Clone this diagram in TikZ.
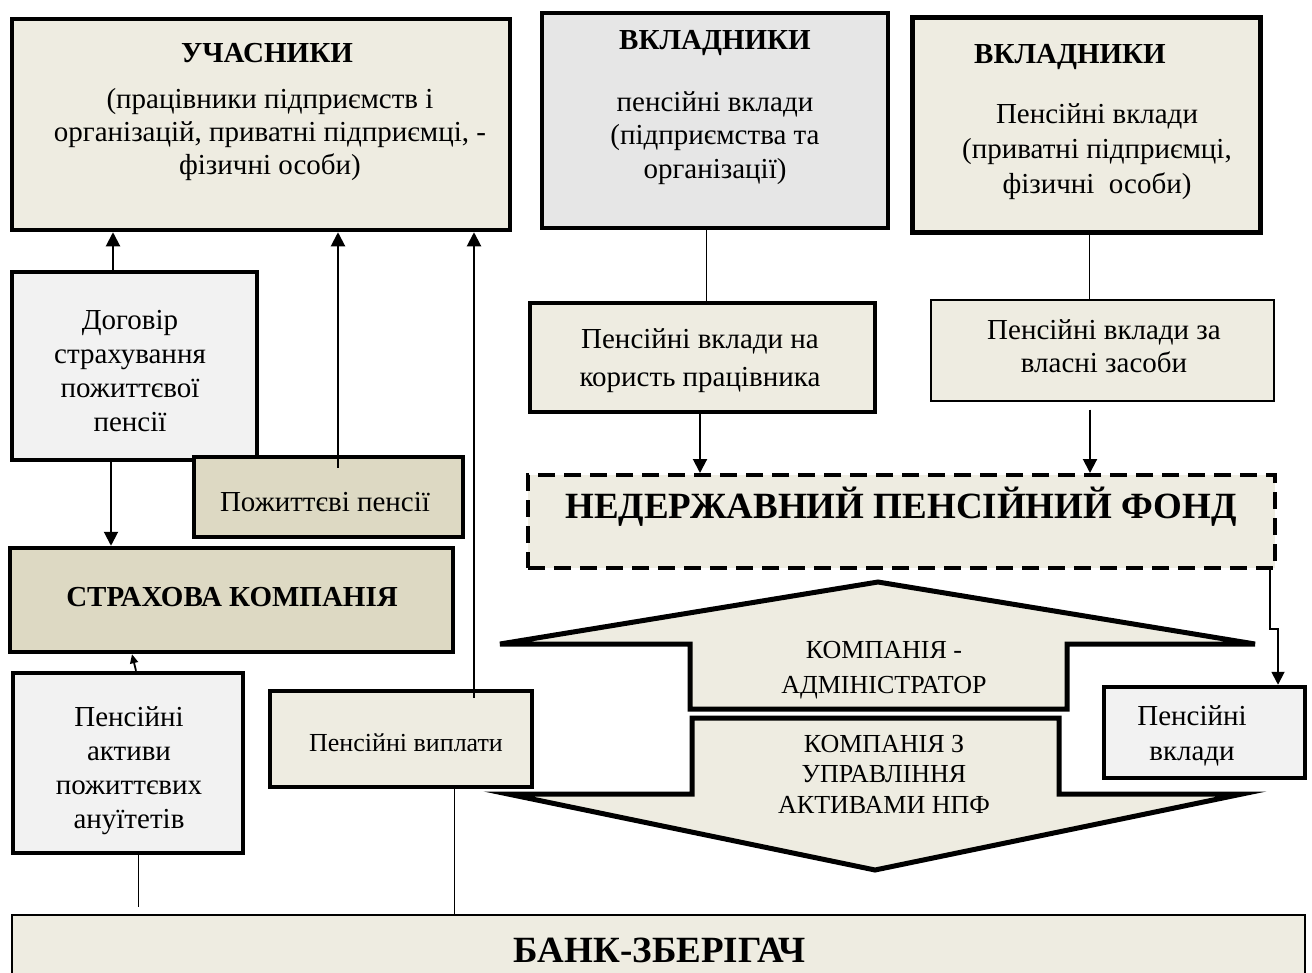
\documentclass[tikz,border=0pt]{standalone}
\usepackage{fontspec}
\setmainfont{Liberation Serif}[BoldFont={Liberation Serif Bold}]
\usetikzlibrary{arrows.meta,calc}
\definecolor{cbeige}{HTML}{EEECE1}
\definecolor{ctan}{HTML}{DDD9C3}
\definecolor{clgray}{HTML}{F2F2F2}
\definecolor{cmgray}{HTML}{E6E6E6}
\tikzset{
  boxbase/.style={draw=black, rectangle, inner sep=0pt, line width=4.5pt},
  body/.style={font=\fontsize{29}{34}\selectfont, align=center, inner sep=0pt},
  ttl/.style={font=\fontsize{29}{34}\selectfont\bfseries, inner sep=0pt},
  arr/.style={line width=2pt, -{Triangle[length=14pt,width=14pt]}},
  thinln/.style={line width=1pt},
  bigarrow/.style={draw=black, fill=cbeige, line width=5pt},
}
\begin{document}
\begin{tikzpicture}[x=1pt,y=-1pt]
\clip (0,0) rectangle (1312,972);
\fill[white] (0,0) rectangle (1312,972);

% top boxes
\node[boxbase, fill=cbeige, minimum width=498, minimum height=211] (uch) at (261,124.5) {};
\node[ttl] (uchT) at (267,53) {УЧАСНИКИ};
\node[body, font=\fontsize{29}{33}\selectfont] (uchB) at (270,135) {(працівники підприємств і\\організацій, приватні підприємці, -\\фізичні особи)};

\node[boxbase, fill=cmgray, line width=3.5pt, minimum width=346, minimum height=215] (vk1) at (715,120.5) {};
\node[ttl] (vk1T) at (715,43) {ВКЛАДНИКИ};
\node[body, font=\fontsize{29}{33.5}\selectfont] (vk1B) at (715,138) {пенсійні вклади\\(підприємства та\\організації)};

\node[boxbase, fill=cbeige, line width=5pt, minimum width=348, minimum height=215] (vk2) at (1086,124.5) {};
\node[ttl] (vk2T) at (1070,57) {ВКЛАДНИКИ};
\node[body, font=\fontsize{29}{35}\selectfont] (vk2B) at (1097,152) {Пенсійні вклади\\(приватні підприємці,\\фізичні\ \ особи)};

% left column
\node[boxbase, fill=clgray, minimum width=245, minimum height=188] (dog) at (134.5,366) {};
\node[body] (dogT) at (130,371) {Договір\\страхування\\пожиттєвої\\пенсії};

\node[boxbase, fill=ctan, minimum width=269, minimum height=80] (pp) at (328.5,497) {};
\node[body] (ppT) at (325,502) {Пожиттєві пенсії};

\node[boxbase, fill=ctan, minimum width=443, minimum height=104] (str) at (231.5,600) {};
\node[ttl] (strT) at (232,597) {СТРАХОВА КОМПАНІЯ};

\node[boxbase, fill=clgray, minimum width=230, minimum height=180] (akt) at (128,763) {};
\node[body] (aktT) at (129,771) {Пенсійні\\активи\\пожиттєвих\\ануїтетів};

\node[boxbase, fill=cbeige, minimum width=262, minimum height=96] (vyp) at (401,739) {};
\node[body, font=\fontsize{26}{32}\selectfont] (vypT) at (406,743) {Пенсійні виплати};

% middle / right
\node[boxbase, fill=cbeige, minimum width=345, minimum height=109] (nak) at (702.5,357.5) {};
\node[body, font=\fontsize{29}{38}\selectfont] (nakT) at (700,361) {Пенсійні вклади на\\користь працівника};

\node[boxbase, fill=cbeige, line width=1.3pt, minimum width=343, minimum height=101] (vla) at (1102.5,350.5) {};
\node[body, font=\fontsize{29}{33}\selectfont] (vlaT) at (1104,346.5) {Пенсійні вклади за\\власні засоби};

\node[boxbase, fill=cbeige, line width=4pt, dash pattern=on 17pt off 9pt, minimum width=747, minimum height=93] (npf) at (901.5,521.5) {};
\node[inner sep=0pt, font=\fontsize{37}{40}\selectfont\bfseries] (npfT) at (901,507) {НЕДЕРЖАВНИЙ ПЕНСІЙНИЙ ФОНД};

\node[boxbase, fill=clgray, minimum width=201, minimum height=91] (pvr) at (1204.5,732.5) {};
\node[body, font=\fontsize{29}{35}\selectfont] (pvrT) at (1192,736) {Пенсійні\\вклади};

% double arrow
\draw[bigarrow] (500,644) -- (878,582) -- (1255,644) -- (1067,644) -- (1067,709) -- (690,709) -- (690,644) -- cycle;
\node[body, font=\fontsize{26}{35}\selectfont] (admT) at (884,670) {КОМПАНІЯ -\\АДМІНІСТРАТОР};
\draw[bigarrow] (692,718) -- (1059,718) -- (1059,794) -- (1242,794) -- (875,870) -- (508,794) -- (692,794) -- cycle;
\node[body, font=\fontsize{26}{30.5}\selectfont] (uprT) at (884,774) {КОМПАНІЯ З\\УПРАВЛІННЯ\\АКТИВАМИ НПФ};

% bank
\node[boxbase, fill=cbeige, line width=2pt, minimum width=1293, minimum height=85] (bank) at (658.5,957.5) {};
\node[inner sep=0pt, font=\fontsize{37}{40}\selectfont\bfseries] (bankT) at (660,950) {БАНК-ЗБЕРІГАЧ};

\coordinate (aktend) at (138,907);

% connectors
\draw[arr] ([xshift=-21.5]dog.north) -- ([xshift=-21.5]dog.north |- uch.south);
\draw[arr] ([xshift=9.5,yshift=-13]pp.north) -- ([xshift=9.5]pp.north |- uch.south);
\draw[arr] ([xshift=73,yshift=-9]vyp.north) -- ([xshift=73]vyp.north |- uch.south);
\draw[arr] ([xshift=-23.5]dog.south) -- ([xshift=-23.5]dog.south |- str.north);
\draw[line width=1.8pt, -{Triangle[length=9pt,width=8pt]}] ([xshift=8]akt.north) -- ([xshift=4]akt.north |- str.south);
\draw[thinln] ([xshift=10]akt.south) -- (aktend);
\draw[thinln] ([xshift=53]vyp.south) -- ([xshift=53]vyp.south |- bank.north);
\draw[thinln] ([xshift=-9]vk1.south) -- ([xshift=-9]vk1.south |- nak.north);
\draw[thinln] ([xshift=3]vk2.south) -- ([xshift=3]vk2.south |- vla.north);
\draw[arr] ([xshift=-2.5]nak.south) -- ([xshift=-2.5]nak.south |- npf.north);
\draw[arr] ([xshift=-12.5,yshift=-8]vla.south) -- ([xshift=-12.5]vla.south |- npf.north);
\draw[line width=1.8pt, -{Triangle[length=13pt,width=13pt]}] ([xshift=-7]npf.south east) -- ++(0,59) -| ([xshift=73.5]pvr.north);
\end{tikzpicture}
\end{document}
